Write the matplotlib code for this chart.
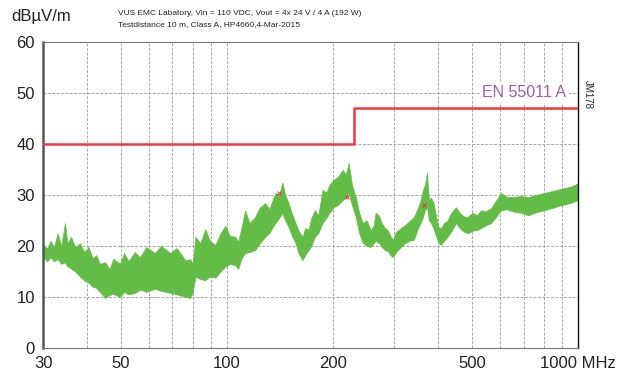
"""EMC radiated emission plot, 30-1000 MHz, with EN 55011 class A limit."""
import matplotlib

matplotlib.use("Agg")
from matplotlib import pyplot as plt

plt.rcParams["font.family"] = ["Liberation Sans", "DejaVu Sans"]

GREEN, RED, PURPLE, GRID, INK = "#62bc46", "#ee3a3a", "#a35aa9", "#a8a8a8", "#222222"

# measured trace, read as an envelope (upper / lower edge of the noisy band)
freq = [30, 30.8, 31.5, 32.2, 33, 33.8, 34.6, 35.2, 36, 37, 38.2, 39.3, 40.4,
        41.5, 42.5, 43.5, 45, 46.4, 47.5, 49.6, 51, 52.5, 54.7, 56.6, 59, 62.4,
        65, 69, 72, 76.2, 78.7, 80, 81.4, 84, 86.8, 89.5, 92.7, 96, 99, 102,
        105.7, 107.7, 110, 112.7, 116, 120.4, 124, 128.6, 132, 137.4, 141,
        143.9, 146.5, 149.9, 153, 156.8, 160, 164.2, 167, 170.8, 174, 178, 182,
        187.2, 192, 196, 201.3, 207, 213.6, 218, 222.2, 227, 232.7, 238, 243.6,
        250, 256.7, 262, 265, 270.6, 276, 282, 287.1, 292, 296.9, 303, 312.9,
        320, 330, 340.8, 350, 356, 361.6, 366, 371.2, 376, 381.1, 387, 393.8,
        400, 406.9, 415, 425, 435, 448.9, 460, 472, 485.7, 500, 515, 528.9, 545,
        564.9, 585, 603.1, 625, 656.9, 690, 720, 760, 800, 850, 894, 950, 1000]
upper = [20.2, 19.5, 21.0, 19.8, 22.5, 20.0, 24.5, 20.5, 21.8, 19.8, 20.5, 18.8, 19.8,
         17.6, 18.2, 16.5, 16.8, 15.5, 17.5, 16.5, 18.6, 17.0, 18.8, 17.8, 19.8, 18.6,
         20.0, 18.6, 19.6, 17.2, 17.4, 16.5, 21.8, 20.5, 23.3, 21.0, 20.2, 22.5, 24.0, 22.0,
         21.8, 20.8, 23.5, 27.0, 24.5, 25.7, 27.5, 28.4, 27.2, 30.4, 30.0,
         32.5, 30.0, 28.4, 26.5, 24.5, 23.0, 21.8, 23.5, 23.2, 25.5, 27.0, 26.0,
         31.0, 30.5, 32.0, 33.0, 33.5, 34.9, 34.0, 36.3, 32.0, 29.6, 26.5, 24.5,
         25.0, 23.1, 24.0, 26.5, 26.0, 24.5, 23.5, 23.1, 22.0, 21.2, 22.8, 23.5,
         24.0, 24.8, 25.7, 27.5, 29.0, 31.0, 32.0, 34.3, 29.0, 29.5, 28.5, 26.0,
         23.7, 23.5, 24.5, 25.0, 26.5, 27.6, 26.5, 25.8, 25.7, 26.5, 26.0, 27.0, 26.8,
         27.4, 29.0, 30.4, 29.6, 29.6, 29.8, 29.6, 30.0, 30.4, 30.8, 31.2, 31.6, 32.3]
lower = [17.8, 17.0, 17.8, 17.0, 17.4, 16.5, 16.8, 16.0, 15.6, 15.0, 14.0, 13.2, 12.8,
         12.0, 11.8, 11.0, 9.8, 10.4, 10.6, 10.0, 11.0, 10.5, 10.8, 11.4, 11.0, 11.6,
         11.2, 10.8, 10.5, 10.0, 9.8, 11.0, 14.0, 13.5, 13.3, 14.0, 13.8, 15.0, 15.9, 16.5,
         16.2, 15.5, 17.5, 18.6, 18.8, 19.2, 20.5, 21.8, 22.5, 24.5, 25.5,
         26.5, 25.0, 23.7, 22.0, 20.6, 18.5, 17.2, 18.2, 19.2, 20.0, 21.8, 22.5,
         24.5, 25.5, 26.5, 27.6, 28.0, 29.0, 29.5, 30.4, 28.0, 25.7, 22.5, 20.6,
         20.0, 19.8, 20.5, 21.0, 20.6, 19.8, 19.2, 19.0, 18.2, 17.8, 18.8, 19.8,
         20.5, 21.0, 21.2, 23.5, 24.5, 25.7, 27.0, 27.6, 25.1, 24.5, 23.5, 22.0,
         20.6, 20.2, 21.0, 21.8, 22.8, 24.5, 23.5, 22.8, 22.5, 23.0, 23.1, 23.5, 24.0,
         24.5, 25.8, 27.0, 27.2, 26.7, 26.5, 26.0, 26.6, 27.0, 27.5, 28.0, 28.4, 29.0]

# peak markers
peak_f = [141, 220, 364]
peak_db = [30.4, 29.6, 28.0]

# EN 55011 class A limit (10 m)
limit_f = [30, 230, 230, 1000]
limit_db = [40, 40, 47, 47]

fig = plt.figure(figsize=(6.34, 3.72), dpi=100)
ax = fig.add_axes([0.068, 0.0645, 0.844, 0.823])

ax.fill_between(freq, lower, upper, color=GREEN, lw=0.5, edgecolor=GREEN, zorder=2)
ax.plot(peak_f, peak_db, "x", color=RED, ms=3, mew=0.8, zorder=3)
ax.plot(limit_f, limit_db, color=RED, lw=1.8, zorder=4)

ax.set_xscale("log")
ax.set_xlim(30, 1000)
ax.set_ylim(0, 60)
ax.set_xticks([30, 50, 100, 200, 500, 1000])
ax.set_xticklabels(["30", "50", "100", "200", "500", "1000 MHz"])
ax.set_xticks([40, 60, 70, 80, 90, 300, 400, 600, 700, 800, 900], minor=True)
ax.set_xticklabels([], minor=True)
ax.set_yticks(range(0, 61, 10))
ax.tick_params(which="both", length=0, labelsize=12, colors=INK, pad=6)
ax.grid(which="both", axis="x", color=GRID, lw=0.7, ls=(0, (3, 1.5)))
ax.grid(which="major", axis="y", color=GRID, lw=0.7, ls=(0, (3, 1.5)))
ax.set_axisbelow(True)
ax.spines["left"].set_color("#555555")
ax.spines["left"].set_linewidth(1.8)
ax.spines["right"].set_color("#111111")
ax.spines["right"].set_linewidth(1.0)
for s in ("top", "bottom"):
    ax.spines[s].set_color("#777777")
    ax.spines[s].set_linewidth(0.8)

lbl = ax.text(925, 50, "EN 55011 A", color=PURPLE, fontsize=11.5, ha="right", va="center",
              zorder=5)
lbl.set_bbox(dict(facecolor="white", edgecolor="none", pad=2))
ax.text(1.008, 0.875, "JM178", transform=ax.transAxes, rotation=270, fontsize=7,
        ha="left", va="top", color=INK)

fig.text(0.018, 0.955, "dBµV/m", fontsize=12, color=INK, va="center")
fig.text(0.186, 0.965, "VUS EMC Labatory, Vin = 110 VDC, Vout = 4x 24 V / 4 A (192 W)",
         fontsize=6, color=INK, va="center")
fig.text(0.186, 0.933, "Testdistance 10 m, Class A, HP4660,4-Mar-2015",
         fontsize=6, color=INK, va="center")

fig.savefig("out.png", dpi=100, facecolor="white")
